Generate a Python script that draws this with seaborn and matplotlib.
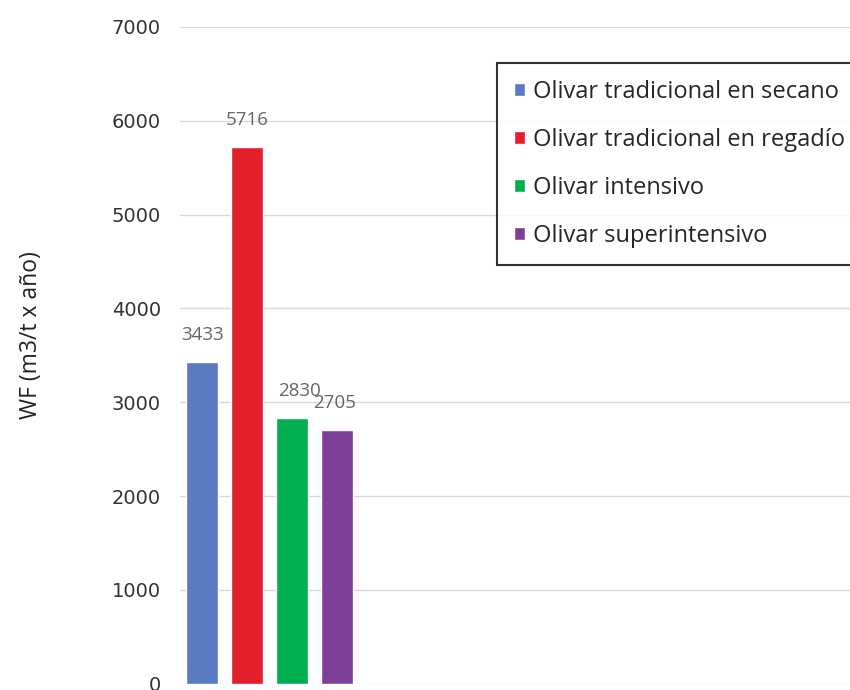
import matplotlib
matplotlib.use("Agg")
import matplotlib.pyplot as plt
import seaborn as sns
import pandas as pd

# data
series = ["Olivar tradicional en secano", "Olivar tradicional en regadío",
          "Olivar intensivo", "Olivar superintensivo"]
values = [3433, 5716, 2830, 2705]
colors = ["#5B7BC0", "#E21F2B", "#00AF50", "#7D3F98"]
y_ticks = [0, 1000, 2000, 3000, 4000, 5000, 6000, 7000]

df = pd.DataFrame({"cat": ["WF"] * len(series), "serie": series, "valor": values})

sns.set_style("white")
plt.rcParams["font.family"] = ["DejaVu Sans"]

fig = plt.figure(figsize=(8.5, 6.9), dpi=100)
ax = fig.add_axes([0.212, 0.009, 0.788, 0.952])

sns.barplot(data=df, x="cat", y="valor", hue="serie", palette=colors,
            hue_order=series, gap=0.3, saturation=1, ax=ax, legend=True)

ax.set_ylim(0, 7000)
ax.set_xlim(-0.398, 2.58)
ax.set_yticks(y_ticks)
ax.set_yticklabels([str(t) for t in y_ticks], fontsize=14, color="#333333")
ax.tick_params(axis="y", length=0, pad=14)
ax.set_xticks([])
ax.set_xlabel("")
ax.yaxis.grid(True, color="#D9D9D9", linewidth=1)
ax.set_axisbelow(True)
for s in ax.spines.values():
    s.set_visible(False)

ax.set_ylabel("WF (m3/t x año)", fontsize=16.5, family="Open Sans", color="#222222")
ax.yaxis.set_label_coords(-0.205, 0.531)

offsets = [0, 0, 5, -2]
for cont, dx in zip(ax.containers, offsets):
    for bar in cont:
        ax.annotate(f"{int(bar.get_height())}",
                    (bar.get_x() + bar.get_width() / 2, bar.get_height()),
                    xytext=(dx, 13), textcoords="offset points",
                    ha="center", va="bottom", fontsize=13.5, family="Open Sans", color="#666666")

handles, labels = ax.get_legend_handles_labels()
ax.legend_.remove()
leg = fig.legend(handles, labels, loc="upper left", bbox_to_anchor=(497 / 850, 1 - 63 / 690),
                 frameon=True, fancybox=False, edgecolor="black",
                 prop={"family": "Open Sans", "size": 17}, labelspacing=1.02,
                 handlelength=0.45, handleheight=0.45, handletextpad=0.35,
                 borderpad=0.72, borderaxespad=0)
leg.get_frame().set_linewidth(1.5)

fig.savefig("out.png", dpi=100)
